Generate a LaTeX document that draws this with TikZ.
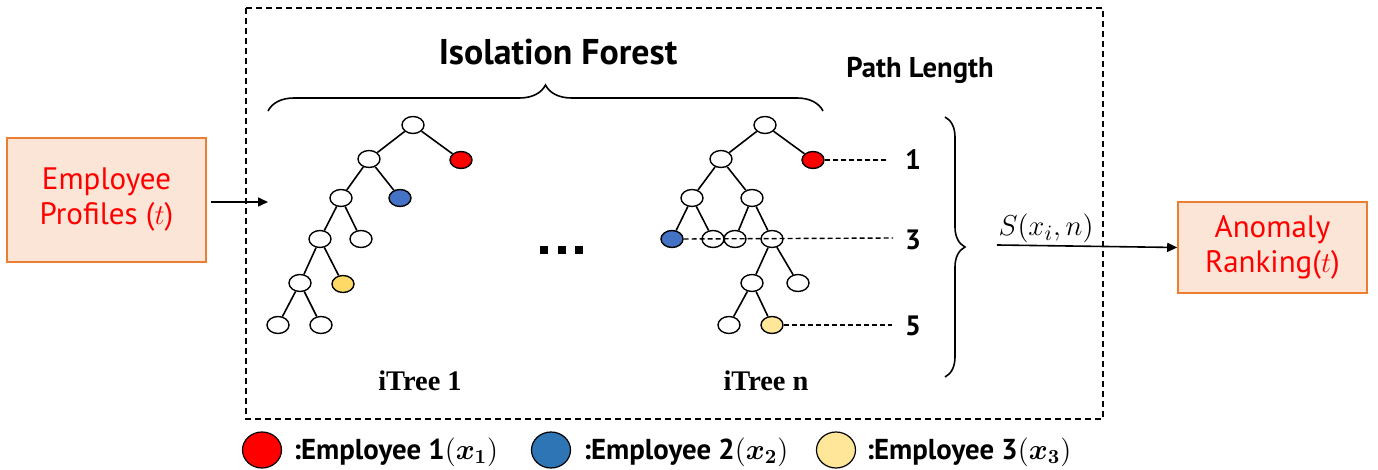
\documentclass[tikz,border=0pt]{standalone}
\usepackage{fontspec}
\setmainfont{PT Sans}
\newfontfamily\timesf{Liberation Serif}
\usepackage{bm}
\usetikzlibrary{shapes.geometric,arrows.meta,decorations.pathreplacing}
\definecolor{boxfill}{HTML}{FBE5D6}
\definecolor{boxline}{HTML}{ED7D31}
\definecolor{tred}{HTML}{FF0000}
\definecolor{tblue}{HTML}{4472C4}
\definecolor{lblue}{HTML}{2E75B6}
\definecolor{tyel}{HTML}{FFD966}
\definecolor{lyel}{HTML}{FFE699}
\begin{document}
\begin{tikzpicture}[x=0.5pt,y=-0.5pt,
  tn/.style={ellipse,draw,line width=0.7pt,minimum width=11pt,minimum height=8.5pt,inner sep=0pt,fill=white},
  tedge/.style={line width=0.8pt},
  pathdash/.style={line width=0.6pt,dash pattern=on 2.5pt off 1.5pt},
  iobox/.style={draw=boxline,line width=0.8pt,fill=boxfill,text=tred,align=center,inner sep=0pt,font=\fontsize{15.5}{17.5}\selectfont},
  lgd/.style={ellipse,draw,line width=0.6pt,minimum width=19.5pt,minimum height=18pt,inner sep=0pt},
  lgdtext/.style={anchor=west,inner sep=0pt,font=\bfseries\fontsize{14.4}{16}\selectfont},
  arr/.style={line width=0.8pt,-{Triangle[length=5pt,width=4.5pt]}},
  num/.style={font=\bfseries\fontsize{14}{16}\selectfont,inner sep=0pt},
  dotsq/.style={fill=black,minimum size=3.6pt,inner sep=0pt}
]
\useasboundingbox (0,0) rectangle (1378,470);
% dashed frame
\draw[line width=0.75pt,dash pattern=on 3pt off 2pt] (246,8) rectangle (1103,419);

% titles
\node[font=\bfseries\fontsize{17.9}{20}\selectfont] (title) at (558,52) {Isolation Forest};
\node[font=\bfseries\fontsize{14.3}{16}\selectfont] (plen) at (920,70) {Path Length};
\draw[line width=0.8pt,decorate,decoration={brace,amplitude=13pt}] (268,111) -- (823,111);

% input / output boxes
\node[iobox,minimum width=99.5pt,minimum height=62pt] (emp) at (106.5,200) {Employee\\Profiles ($t$)};
\node[iobox,minimum width=94.5pt,minimum height=45.5pt] (anom) at (1272.5,247.5) {Anomaly\\Ranking($t$)};
\coordinate (inend) at (268,202);
\draw[arr,shorten <=2pt] (emp.east |- inend) -- (inend);

% tree 1
\node[tn] (a1r) at (413,125) {};
\node[tn] (a1a) at (369,159) {};
\node[tn,fill=tred] (a1red) at (461,160) {};
\node[tn] (a1b) at (341,198) {};
\node[tn,fill=tblue] (a1blue) at (400,198) {};
\node[tn] (a1c) at (320,239) {};
\node[tn] (a1d) at (361,239) {};
\node[tn] (a1e) at (300,283) {};
\node[tn,fill=tyel] (a1y) at (343,284) {};
\node[tn] (a1f) at (278,325) {};
\node[tn] (a1g) at (321,325) {};
\draw[tedge] (a1r)--(a1a) (a1r)--(a1red) (a1a)--(a1b) (a1a)--(a1blue)
  (a1b)--(a1c) (a1b)--(a1d) (a1c)--(a1e) (a1c)--(a1y) (a1e)--(a1f) (a1e)--(a1g);

% tree n
\node[tn] (nr) at (765,125) {};
\node[tn] (na) at (721,159) {};
\node[tn,fill=tred] (nred) at (813,160) {};
\node[tn] (nb) at (692,198) {};
\node[tn] (nb2) at (752,198) {};
\node[tn,fill=tblue] (nblue) at (672,239) {};
\node[tn] (nc) at (713,239) {};
\node[tn] (nd) at (735,239) {};
\node[tn] (ne) at (772,239) {};
\node[tn] (nf) at (752,283) {};
\node[tn] (ng) at (798,283) {};
\node[tn] (nh) at (729,325) {};
\node[tn,fill=lyel] (nyel) at (772,325) {};
\draw[tedge] (nr)--(na) (nr)--(nred) (na)--(nb) (na)--(nb2) (nb)--(nblue) (nb)--(nc)
  (nb2)--(nd) (nb2)--(ne) (ne)--(nf) (ne)--(ng) (nf)--(nh) (nf)--(nyel);

% path-length guides
\coordinate (p1) at (888,160);
\coordinate (p3) at (893,238);
\coordinate (p5) at (892,325);
\draw[pathdash] (nred.east) -- (p1);
\draw[pathdash,line width=0.7pt] (nblue.east) -- (p3);
\draw[pathdash] (nyel.east) -- (p5);
\node[num] (n1) at (913,160) {1};
\node[num] (n3) at (913,240) {3};
\node[num] (n5) at (913,326) {5};

% ellipsis
\node[dotsq] (d1) at (544,250) {};
\node[dotsq] (d2) at (562,250) {};
\node[dotsq] (d3) at (579,250) {};

% tree labels
\node[font=\timesf\bfseries\fontsize{14.2}{16}\selectfont] (t1) at (420,381) {iTree 1};
\node[font=\timesf\bfseries\fontsize{14.2}{16}\selectfont] (tn) at (766,381) {iTree n};

% right brace and score arrow
\draw[line width=0.8pt,decorate,decoration={brace,amplitude=10pt}] (945,117) -- (945,377);
\coordinate (sstart) at (997,245);
\draw[arr] (sstart) -- (anom.west);
\node[font=\fontsize{15}{17}\selectfont,inner sep=0pt,anchor=base] (slab) at (1046,236) {$S(x_i,n)$};

% legend
\node[lgd,fill=tred] (l1) at (262,450) {};
\node[lgdtext] (l1t) at (293,452) {:Employee 1$(\bm{x}_{\bm{1}})$};
\node[lgd,fill=lblue] (l2) at (551,450) {};
\node[lgdtext] (l2t) at (583,452) {:Employee 2$(\bm{x}_{\bm{2}})$};
\node[lgd,fill=lyel] (l3) at (836,450) {};
\node[lgdtext] (l3t) at (866,452) {:Employee 3$(\bm{x}_{\bm{3}})$};
\end{tikzpicture}
\end{document}
